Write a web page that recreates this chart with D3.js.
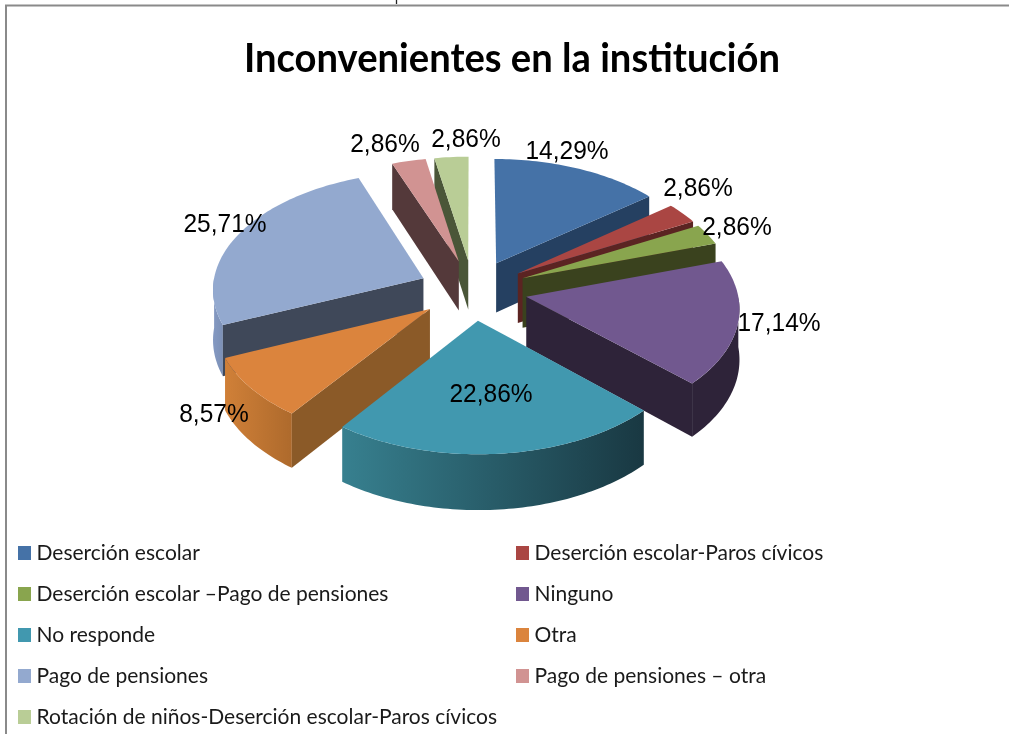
<!DOCTYPE html>
<html><head><meta charset="utf-8">
<style>html,body{margin:0;padding:0;background:#fff;overflow:hidden}svg{display:block;filter:blur(0.4px)}</style>
<script src="https://cdn.jsdelivr.net/npm/d3@7"></script></head>
<body><svg id="c" width="1009" height="734"></svg>
<script>
const title = "Inconvenientes en la institución";
const categories = ["Deserción escolar","Deserción escolar-Paros cívicos","Deserción escolar –Pago de pensiones","Ninguno","No responde","Otra","Pago de pensiones","Pago de pensiones – otra","Rotación de niños-Deserción escolar-Paros cívicos"];
const values = [14.29,2.86,2.86,17.14,22.86,8.57,25.71,2.86,2.86];
const colors = ["#4572A7","#AA4643","#89A54E","#71588F","#4198AF","#DB843D","#93A9CF","#D19392","#B9CD96"];
const cutColors = ["#254061","#5B2422","#3A421E","#2E2339","#1B3A45","#8B5A28","#3F4859","#54393A","#4A5638"];
const arcColors = [["#254061","#254061"],["#5B2422","#5B2422"],["#3A421E","#3A421E"],["#2E2339","#2E2339"],["#37808F","#193842"],["#D08038","#AE6A2C"],["#8499C2","#7C90B6"],["#54393A","#54393A"],["#4A5638","#4A5638"]];
const labelCentres = [[567,150],[698,187],[737,226],[779,322],[491,393],[214,413],[225,223],[385,143],[466,138]];

const svg = d3.select("#c");
const C = {cx:473, cy:290, R:202, e:52, D:2440, kx:1.045, ky:.58, h:50};
const s = v => C.D/(C.D+v);
const planeAt = (d,r,t)=>{const m=(d.startAngle+d.endAngle)/2;
  return [C.e*Math.sin(m)+r*Math.sin(t), C.e*Math.cos(m)+r*Math.cos(t)];};
const topPt = ([u,v])=>[C.cx+C.kx*u*s(v), C.cy-C.ky*v*s(v)];
const botPt = ([u,v])=>[C.cx+C.kx*u*s(v), C.cy-C.ky*v*s(v)+C.h*s(v)];
const line = d3.line();
const arcAngles = (a,b)=>{const n=Math.max(2,Math.ceil((b-a)/.02));return d3.range(n+1).map(i=>a+(b-a)*i/n);};

svg.append("path").attr("d","M6,734V5.5H1009").attr("fill","none").attr("stroke","#8a8a8a").attr("stroke-width",2);
svg.append("path").attr("d","M396.5,0V4").attr("stroke","#222").attr("stroke-width",1.3);

svg.append("text").attr("x",512).attr("y",72).attr("text-anchor","middle")
  .attr("font-family","Lato").attr("font-weight",700).attr("font-size",41)
  .attr("textLength",536).attr("lengthAdjust","spacingAndGlyphs").attr("fill","#000").text(title);

const pie = d3.pie().sort(null).value(d=>d);
const arcs = pie(values).map((d,i)=>({...d,i}));
const depthKey = d=>Math.round(Math.cos((d.startAngle+d.endAngle)/2)*50);
const order = arcs.slice().sort((a,b)=>depthKey(b)-depthKey(a)||a.i-b.i);
const defs = svg.append("defs");
const pieG = svg.append("g");

order.forEach(d=>{
  const a=d.startAngle,b=d.endAngle,g=pieG.append("g");
  const apex=planeAt(d,0,0), A=planeAt(d,C.R,a), B=planeAt(d,C.R,b);
  const fa=Math.max(a,Math.PI/2), fb=Math.min(b,3*Math.PI/2);
  if(fb>fa){
    const ts=arcAngles(fa,fb), pts=ts.map(t=>planeAt(d,C.R,t));
    const poly=pts.map(topPt).concat(pts.map(botPt).reverse());
    const id="w"+d.i, xs=poly.map(p=>p[0]);
    const gr=defs.append("linearGradient").attr("id",id).attr("gradientUnits","userSpaceOnUse")
      .attr("x1",d3.min(xs)).attr("x2",d3.max(xs)).attr("y1",0).attr("y2",0);
    gr.append("stop").attr("offset",0).attr("stop-color",arcColors[d.i][0]);
    gr.append("stop").attr("offset",1).attr("stop-color",arcColors[d.i][1]);
    g.append("path").attr("d",line(poly)+"Z").attr("fill",`url(#${id})`);
  }
  const wall=(P)=>g.append("path").attr("d",line([topPt(apex),topPt(P),botPt(P),botPt(apex)])+"Z").attr("fill",cutColors[d.i]);
  if(Math.sin(a)<-1e-6) wall(A);
  if(Math.sin(b)>1e-6) wall(B);
  const rim=arcAngles(a,b).map(t=>topPt(planeAt(d,C.R,t)));
  g.append("path").attr("d",line([topPt(apex),...rim])+"Z").attr("fill",colors[d.i]);
});

svg.append("g").selectAll("text").data(arcs).join("text")
  .attr("x",d=>labelCentres[d.i][0]).attr("y",d=>labelCentres[d.i][1]+9)
  .attr("text-anchor","middle").attr("font-family","Liberation Sans").attr("font-size",26.5)
  .attr("lengthAdjust","spacingAndGlyphs").attr("fill","#000")
  .text(d=>d.value.toFixed(2).replace(".",",")+"%")
  .each(function(){ d3.select(this).attr("textLength",this.getComputedTextLength()*0.925); });

const legendX = d3.scalePoint().domain([0,1]).range([18,516]);
const legendY = d3.scalePoint().domain(d3.range(5)).range([553,717]);
const lg = svg.append("g").selectAll("g").data(categories).join("g")
  .attr("transform",(d,i)=>`translate(${legendX(i%2)},${legendY(Math.floor(i/2))})`);
lg.append("rect").attr("x",0).attr("y",-7).attr("width",13).attr("height",14).attr("fill",(d,i)=>colors[i]);
lg.append("text").attr("x",18.5).attr("y",7).attr("font-family","Lato").attr("font-size",21).attr("fill","#1a1a1a").text(d=>d);
</script></body></html>
